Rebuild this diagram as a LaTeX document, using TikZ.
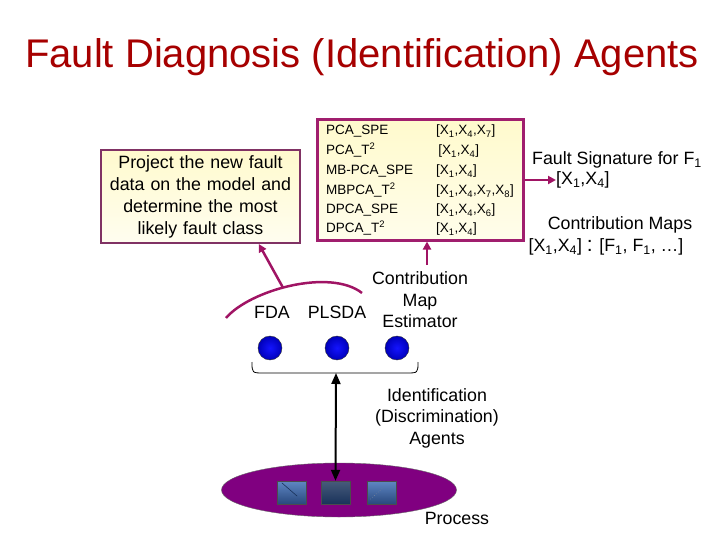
\documentclass[tikz,border=0pt]{standalone}
\usepackage{fontspec}
\setmainfont{Liberation Sans}
\usetikzlibrary{arrows.meta,calc,positioning,shapes.geometric}
\definecolor{titlered}{RGB}{166,0,0}
\definecolor{boxpurple}{RGB}{128,50,100}
\definecolor{tblpurple}{RGB}{160,30,110}
\definecolor{linkpurple}{RGB}{160,20,100}
\definecolor{procpurple}{RGB}{128,0,128}
\definecolor{unitlight}{RGB}{95,135,195}
\definecolor{unitblue}{RGB}{40,72,125}
\definecolor{unitdark}{RGB}{25,50,90}
\definecolor{paleyellow}{RGB}{255,250,205}
\begin{document}
\begin{tikzpicture}[x=1pt,y=-1pt,>={Triangle[length=8pt,width=8pt]},
  lbl/.style={font=\fontsize{17.8}{21.5}\selectfont,align=center,inner sep=0pt},
  tbl/.style={font=\fontsize{13.5}{16}\selectfont,anchor=base west,inner sep=0pt},
  agentdot/.style={circle,minimum size=24pt,inner sep=0pt,draw=black!80,
    inner color={rgb,255:red,20;green,20;blue,255},outer color={rgb,255:red,0;green,0;blue,185}},
  unitbox/.style={rectangle,minimum width=29pt,minimum height=23pt,inner sep=0pt,draw=black!70},
  link/.style={draw=linkpurple,line width=2.5pt}]
\useasboundingbox (0,0) rectangle (720,540);
\node[font=\fontsize{40}{40}\selectfont,text=titlered,inner sep=0pt] (title) at (362,57)
  {Fault Diagnosis (Identification) Agents};

\node[draw=boxpurple,line width=2pt,top color=paleyellow,bottom color=paleyellow!30,
  minimum width=199pt,minimum height=93pt,text width=195pt,align=center,inner sep=0pt,
  font=\fontsize{17.8}{22}\selectfont] (fdabox) at (200.5,196.5)
  {Project the new fault\\ data on the model and\\ determine the most\\ likely fault class};

\node[draw=tblpurple,line width=3pt,top color=paleyellow,bottom color=paleyellow!40,
  minimum width=206pt,minimum height=120pt] (metricbox) at (420,180) {};
\foreach \y/\stat/\vars in {
  135/PCA\_SPE/{[X\textsubscript{1},X\textsubscript{4},X\textsubscript{7}]},
  155/PCA\_T\textsuperscript{2}/{\,[X\textsubscript{1},X\textsubscript{4}]},
  175/MB-PCA\_SPE/{[X\textsubscript{1},X\textsubscript{4}]},
  195/MBPCA\_T\textsuperscript{2}/{[X\textsubscript{1},X\textsubscript{4},X\textsubscript{7},X\textsubscript{8}]},
  214/DPCA\_SPE/{[X\textsubscript{1},X\textsubscript{4},X\textsubscript{6}]},
  233/DPCA\_T\textsuperscript{2}/{[X\textsubscript{1},X\textsubscript{4}]}}{
  \node[tbl] (stat\y) at (326,\y) {\stat};
  \node[tbl] (vars\y) at (436,\y) {\vars};
}

\node[lbl] (sigtitle) at (617,160) {Fault Signature for F\textsubscript{1}};
\node[lbl,anchor=west] (sigvars) at (556,180) {[X\textsubscript{1},X\textsubscript{4}]};
\node[lbl] (cmaps) at (620,225) {Contribution Maps};
\node[lbl] (cmapvars) at (606,247) {[X\textsubscript{1},X\textsubscript{4}]
  {\fontsize{21}{21}\selectfont:} [F\textsubscript{1}, F\textsubscript{1}, \dots]};
\draw[link,->] (metricbox.east |- sigvars.west) -- (sigvars.west);

\node[lbl] (fda) at (272,312) {FDA};
\node[lbl] (plsda) at (337,312) {PLSDA};
\node[lbl] (cme) at (420,300) {Contribution\\ Map\\ Estimator};
\coordinate (cmetop) at (427,265);
\draw[link,->] (cmetop) -- (cmetop |- metricbox.south);

\draw[link] (226,318) .. controls (250,290) and (330,268) .. coordinate[pos=0.45] (arcm) (362,293);
\draw[link,->] (arcm) -- ($(fdabox.south west)!0.79!(fdabox.south east)$);

\node[agentdot] (dotfda) at (270,348) {};
\node[agentdot] (dotplsda) at (337,348) {};
\node[agentdot] (dotcme) at (397,348) {};
\coordinate (bracemid) at (336,373);
\draw[line width=0.8pt] (252,362) .. controls (252,373) .. (264,373) -- (406,373)
  .. controls (418,373) .. (418,362);

\node[lbl] (agents) at (437,418) {Identification\\ (Discrimination)\\ Agents};

\node[ellipse,draw=black!60,fill=procpurple,minimum width=235pt,minimum height=54pt] (process) at (339,490) {};
\node[unitbox,top color=unitlight,bottom color=unitblue] (unit1) at (291.5,492.5) {};
\node[unitbox,top color=unitdark!80!white,bottom color=unitdark] (unit2) at (335.5,492.5) {};
\node[unitbox,top color=unitlight,bottom color=unitblue] (unit3) at (382,492.5) {};
\draw[unitdark,line width=0.6pt] ($(unit1.north west)+(5,2)$) -- ($(unit1.south east)+(-9,-8)$);
\draw[unitdark!60,line width=0.6pt,dotted] ($(unit3.south west)+(3,-5)$) -- ($(unit3.center)+(0,-4)$);
\draw[{Triangle[width=9pt,length=11pt]}-{Triangle[width=9pt,length=11pt]},line width=2pt]
  (bracemid) -- (unit2.north);
\node[lbl] (proc) at (457,518) {Process};
\end{tikzpicture}
\end{document}
